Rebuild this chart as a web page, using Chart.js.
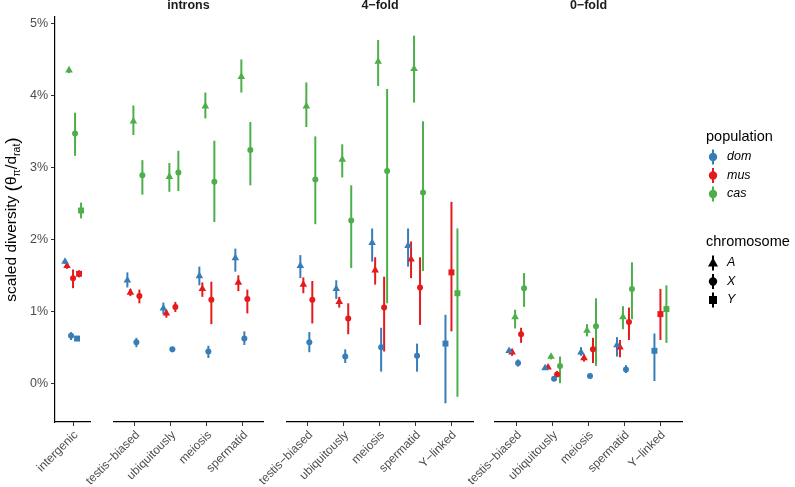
<!DOCTYPE html>
<html>
<head>
<meta charset="utf-8">
<script src="https://cdn.jsdelivr.net/npm/chart.js@4.4.1/dist/chart.umd.min.js"></script>
<style>
  body { margin: 0; background: #fff; }
  #wrap { position: relative; width: 795px; height: 487px; }
  #wrap canvas { position: absolute; left: 0; top: 0; }
</style>
</head>
<body>
<div id="wrap">
  <canvas id="p0" width="795" height="487"></canvas>
  <canvas id="p1" width="795" height="487"></canvas>
  <canvas id="p2" width="795" height="487"></canvas>
  <canvas id="p3" width="795" height="487"></canvas>
</div>
<script>
// facets and categories
const panelTitles = ['', 'introns', '4\u2212fold', '0\u2212fold'];
const panelCats = [
    ['intergenic'],
    ['testis\u2212biased', 'ubiquitously', 'meiosis', 'spermatid'],
    ['testis\u2212biased', 'ubiquitously', 'meiosis', 'spermatid', 'Y\u2212linked'],
    ['testis\u2212biased', 'ubiquitously', 'meiosis', 'spermatid', 'Y\u2212linked']
];
const yTicks = [0, 1, 2, 3, 4, 5];

// values in %, [estimate, lower, upper], in the order of the categories above
// intergenic | introns x4 | 4-fold x5 | 0-fold x5
const domA = [[1.69, 1.66, 1.72], [1.43, 1.33, 1.54], [1.04, 0.96, 1.12], [1.49, 1.36, 1.62], [1.74, 1.55, 1.87],
    [1.63, 1.46, 1.78], [1.31, 1.17, 1.43], [1.95, 1.69, 2.15], [1.91, 1.62, 2.15], null,
    [0.45, 0.42, 0.48], [0.21, 0.19, 0.22], [0.43, 0.38, 0.50], [0.53, 0.37, 0.64], null];
const musA = [[1.63, 1.59, 1.66], [1.26, 1.21, 1.31], [0.97, 0.91, 1.02], [1.31, 1.20, 1.40], [1.40, 1.28, 1.50],
    [1.37, 1.25, 1.47], [1.13, 1.05, 1.20], [1.57, 1.37, 1.75], [1.72, 1.46, 1.97], null,
    [0.43, 0.38, 0.47], [0.22, 0.20, 0.24], [0.35, 0.30, 0.40], [0.50, 0.36, 0.60], null];
const casA = [[4.35, 4.31, 4.39], [3.64, 3.45, 3.86], [2.87, 2.66, 3.06], [3.85, 3.68, 4.04], [4.26, 4.04, 4.50],
    [3.85, 3.56, 4.18], [3.11, 2.86, 3.32], [4.47, 4.13, 4.77], [4.37, 3.90, 4.83], null,
    [0.92, 0.76, 1.02], [0.37, 0.33, 0.40], [0.73, 0.65, 0.82], [0.92, 0.75, 1.07], null];
const domX = [[0.66, 0.60, 0.71], [0.57, 0.50, 0.63], [0.47, 0.43, 0.50], [0.44, 0.35, 0.52], [0.62, 0.53, 0.72],
    [0.57, 0.43, 0.71], [0.37, 0.28, 0.47], [0.50, 0.16, 0.77], [0.38, 0.16, 0.55], null,
    [0.28, 0.23, 0.33], [0.06, 0.03, 0.09], [0.10, 0.07, 0.13], [0.19, 0.14, 0.25], null];
const musX = [[1.46, 1.32, 1.58], [1.21, 1.11, 1.30], [1.06, 0.99, 1.13], [1.16, 0.82, 1.41], [1.17, 0.97, 1.30],
    [1.16, 0.83, 1.42], [0.90, 0.68, 1.11], [1.05, 0.44, 1.48], [1.33, 0.81, 1.75], null,
    [0.68, 0.56, 0.77], [0.12, 0.09, 0.17], [0.47, 0.28, 0.63], [0.85, 0.60, 1.05], null];
const casX = [[3.47, 3.16, 3.76], [2.89, 2.62, 3.10], [2.93, 2.67, 3.23], [2.80, 2.24, 3.37], [3.24, 2.75, 3.63],
    [2.83, 2.21, 3.43], [2.26, 1.60, 2.75], [2.95, 1.11, 4.09], [2.65, 1.56, 3.64], null,
    [1.32, 1.06, 1.53], [0.24, 0.00, 0.37], [0.79, 0.24, 1.18], [1.31, 0.89, 1.68], null];
const domY = [[0.62, 0.61, 0.64], null, null, null, null,
    null, null, null, null, [0.55, -0.28, 0.95],
    null, null, null, null, [0.45, 0.03, 0.69]];
const musY = [[1.52, 1.47, 1.57], null, null, null, null,
    null, null, null, null, [1.54, 0.72, 2.52],
    null, null, null, null, [0.96, 0.60, 1.31]];
const casY = [[2.40, 2.29, 2.51], null, null, null, null,
    null, null, null, null, [1.25, -0.19, 2.15],
    null, null, null, null, [1.03, 0.56, 1.36]];

const populations = ['dom', 'mus', 'cas'];
const chromosomes = ['A', 'X', 'Y'];

const popColors = { dom: '#377EB8', mus: '#E41A1C', cas: '#4DAF4A' };
const chromShape = { A: 'triangle', X: 'circle', Y: 'rect' };
const chromRadius = { A: 4.4, X: 3.0, Y: 4.2 };

// dodge order: chromosome first, then population
const series = [
    { pop: 'dom', chrom: 'A', vals: domA }, { pop: 'mus', chrom: 'A', vals: musA }, { pop: 'cas', chrom: 'A', vals: casA },
    { pop: 'dom', chrom: 'X', vals: domX }, { pop: 'mus', chrom: 'X', vals: musX }, { pop: 'cas', chrom: 'X', vals: casX },
    { pop: 'dom', chrom: 'Y', vals: domY }, { pop: 'mus', chrom: 'Y', vals: musY }, { pop: 'cas', chrom: 'Y', vals: casY }
];

// panel geometry (pixels) and x ranges
const panelLeft = [55, 114, 287, 495];
const panelRight = [90, 263, 473, 682];
const xMin = [0.5, 0.42, 0.42, 0.4];
const xMax = [1.47, 4.56, 5.6, 5.6];
const dodge = 0.5;
const FONT = '"Liberation Sans", Arial, Helvetica, sans-serif';

Chart.defaults.font.family = FONT;

// error bars under points
const errorBars = {
    id: 'errorBars',
    beforeDatasetsDraw(chart) {
        const ctx = chart.ctx;
        const y = chart.scales.y;
        ctx.save();
        chart.data.datasets.forEach((ds, di) => {
            const meta = chart.getDatasetMeta(di);
            ctx.strokeStyle = ds.borderColor;
            ctx.lineWidth = 2;
            ds.data.forEach((d, i) => {
                const el = meta.data[i];
                ctx.beginPath();
                ctx.moveTo(el.x, y.getPixelForValue(d.lo));
                ctx.lineTo(el.x, y.getPixelForValue(d.hi));
                ctx.stroke();
            });
        });
        ctx.restore();
    }
};

// facet strip labels
const stripTitle = {
    id: 'stripTitle',
    afterDraw(chart, args, opts) {
        if (!opts.text) return;
        const ctx = chart.ctx;
        const ca = chart.chartArea;
        ctx.save();
        ctx.font = 'bold 12.5px ' + FONT;
        ctx.fillStyle = '#1a1a1a';
        ctx.textAlign = 'center';
        ctx.textBaseline = 'alphabetic';
        ctx.fillText(opts.text, (ca.left + ca.right) / 2, 9);
        ctx.restore();
    }
};

// y axis title with subscripts
const yTitle = {
    id: 'yTitle',
    afterDraw(chart, args, opts) {
        if (!opts.show) return;
        const ctx = chart.ctx;
        const ca = chart.chartArea;
        const parts = [
            { t: 'scaled diversity ', f: '15.5px', dy: 0 },
            { t: '(', f: '19px', dy: 1.5 },
            { t: '\u03b8', f: '15.5px', dy: 0 },
            { t: '\u03c0', f: '10.5px', dy: 3.5 },
            { t: '/', f: '17px', dy: 0.5 },
            { t: 'd', f: '15.5px', dy: 0 },
            { t: 'rat', f: '10.5px', dy: 3.5 },
            { t: ')', f: '19px', dy: 1.5 }
        ];
        ctx.save();
        let total = 0;
        parts.forEach(p => { ctx.font = p.f + ' ' + FONT; p.w = ctx.measureText(p.t).width; total += p.w; });
        ctx.translate(16, (ca.top + ca.bottom) / 2);
        ctx.rotate(-Math.PI / 2);
        ctx.fillStyle = '#000';
        ctx.textBaseline = 'alphabetic';
        let x = -total / 2;
        parts.forEach(p => {
            ctx.font = p.f + ' ' + FONT;
            ctx.fillText(p.t, x, p.dy);
            x += p.w;
        });
        ctx.restore();
    }
};

function drawKey(ctx, x, y, shape, color) {
    ctx.strokeStyle = color;
    ctx.fillStyle = color;
    ctx.lineWidth = 2;
    ctx.beginPath();
    ctx.moveTo(x, y - 7.5);
    ctx.lineTo(x, y + 7.5);
    ctx.stroke();
    ctx.beginPath();
    if (shape === 'circle') {
        ctx.arc(x, y, 4.2, 0, Math.PI * 2);
    } else if (shape === 'triangle') {
        ctx.moveTo(x, y - 5.5);
        ctx.lineTo(x + 5, y + 3.5);
        ctx.lineTo(x - 5, y + 3.5);
        ctx.closePath();
    } else {
        ctx.rect(x - 4, y - 4, 8, 8);
    }
    ctx.fill();
}

const legendPlugin = {
    id: 'sideLegend',
    afterDraw(chart, args, opts) {
        if (!opts.show) return;
        const ctx = chart.ctx;
        ctx.save();
        ctx.textAlign = 'left';
        ctx.textBaseline = 'alphabetic';
        ctx.fillStyle = '#000';
        ctx.font = '14.5px ' + FONT;
        ctx.fillText('population', 706, 141);
        ctx.fillText('chromosome', 706, 246);
        ctx.textBaseline = 'middle';
        populations.forEach((p, i) => {
            const y = 157 + i * 18.5;
            drawKey(ctx, 713, y, 'circle', popColors[p]);
            ctx.fillStyle = '#000';
            ctx.font = 'italic 12.5px ' + FONT;
            ctx.fillText(p, 727, y);
        });
        chromosomes.forEach((c, i) => {
            const y = 263 + i * 18.5;
            drawKey(ctx, 713, y, chromShape[c], '#000');
            ctx.fillStyle = '#000';
            ctx.font = 'italic 12.5px ' + FONT;
            ctx.fillText(c, 727, y);
        });
        ctx.restore();
    }
};

function buildDatasets(p) {
    const start = panelCats.slice(0, p).reduce((a, c) => a + c.length, 0);
    const cats = panelCats[p];
    const sets = series.map(s => ({
        label: s.pop + ' ' + s.chrom,
        data: [],
        pointStyle: chromShape[s.chrom],
        pointRadius: chromRadius[s.chrom],
        backgroundColor: popColors[s.pop],
        borderColor: popColors[s.pop],
        borderWidth: 0,
        showLine: false
    }));
    cats.forEach((c, ci) => {
        const present = series.map((s, si) => si).filter(si => series[si].vals[start + ci] !== null);
        const n = present.length;
        present.forEach((si, k) => {
            const v = series[si].vals[start + ci];
            sets[si].data.push({
                x: ci + 1 + (k - (n - 1) / 2) * dodge / n,
                y: v[0], lo: v[1], hi: v[2]
            });
        });
    });
    return sets;
}

function createPanel(p) {
    const cats = panelCats[p];
    const ctx = document.getElementById('p' + p).getContext('2d');
    return new Chart(ctx, {
        type: 'scatter',
        data: { datasets: buildDatasets(p) },
        options: {
            responsive: false,
            animation: false,
            events: [],
            layout: {
                padding: { left: p === 0 ? 0 : panelLeft[p], right: 795 - panelRight[p], top: 17, bottom: 0 }
            },
            plugins: {
                legend: { display: false },
                tooltip: { enabled: false },
                stripTitle: { text: panelTitles[p] },
                yTitle: { show: p === 0 },
                sideLegend: { show: p === 3 }
            },
            scales: {
                x: {
                    type: 'linear',
                    min: xMin[p],
                    max: xMax[p],
                    afterBuildTicks: s => { s.ticks = cats.map((c, i) => ({ value: i + 1 })); },
                    afterFit: s => { s.height = 65; },
                    ticks: {
                        autoSkip: false,
                        minRotation: 45,
                        maxRotation: 45,
                        padding: 2,
                        labelOffset: 3,
                        color: '#4d4d4d',
                        font: { size: 12 },
                        callback: v => cats[Math.round(v) - 1]
                    },
                    grid: { display: true, drawOnChartArea: false, drawTicks: true, tickLength: 4, color: '#333', lineWidth: 1 },
                    border: { display: true, color: '#000', width: 1.2 }
                },
                y: {
                    display: p === 0,
                    min: -0.54,
                    max: 5.09,
                    afterBuildTicks: s => { s.ticks = yTicks.map(v => ({ value: v })); },
                    afterFit: s => { if (p === 0) s.width = 55; },
                    ticks: {
                        padding: 3,
                        color: '#4d4d4d',
                        font: { size: 12.5 },
                        callback: v => v + '%'
                    },
                    grid: { display: true, drawOnChartArea: false, drawTicks: true, tickLength: 4, color: '#333', lineWidth: 1 },
                    border: { display: true, color: '#000', width: 1.2 }
                }
            }
        },
        plugins: [errorBars, stripTitle, yTitle, legendPlugin]
    });
}

[0, 1, 2, 3].forEach(createPanel);
</script>
</body>
</html>
